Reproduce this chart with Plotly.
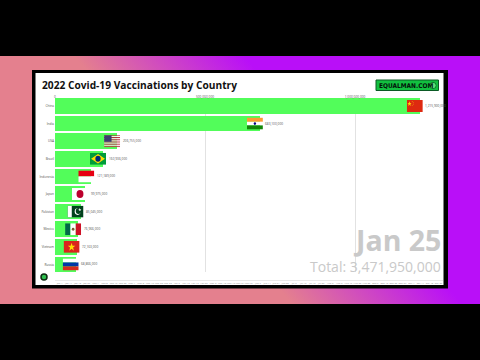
import base64
import plotly.graph_objects as go

countries = ["China", "India", "USA", "Brazil", "Indonesia", "Japan", "Pakistan", "Mexico", "Vietnam", "Russia"]
values = [1216000000, 683000000, 207000000, 160000000, 121000000, 100000000, 85000000, 77000000, 72000000, 69000000]
value_labels = ["1,215,900,000", "683,100,000", "206,755,000", "160,936,000", "121,189,000", "99,975,000",
                "85,045,000", "76,966,000", "72,163,000", "68,866,000"]
x_ticks = [0, 500000000, 1000000000]
x_tick_labels = ["0", "500,000,000", "1,000,000,000"]
timeline = ["Jan 4", "Jan 11", "Jan 18", "Jan 25", "Feb 1", "Feb 8", "Feb 15", "Feb 22", "Mar 1", "Mar 8", "Mar 15",
            "Mar 22", "Mar 29", "Apr 5", "Apr 12", "Apr 19", "Apr 26", "May 3", "May 10", "May 17", "May 24", "May 31",
            "Jun 7", "Jun 14", "Jun 21", "Jun 28", "Jul 5", "Jul 12", "Jul 19", "Jul 26", "Aug 2", "Aug 9", "Aug 16",
            "Aug 23", "Aug 30", "Sep 6", "Sep 13", "Sep 20", "Sep 27", "Oct 4", "Oct 11", "Oct 18", "Oct 25"]
title = "2022 Covid-19 Vaccinations by Country"
date_label = "Jan 25"
total_label = "Total: 3,471,950,000"

W, H = 480, 360
PER_PX = 500000000 / 150


def uri(svg):
    return "data:image/svg+xml;base64," + base64.b64encode(svg.encode()).decode()


def flag(body, w=30, h=20):
    return uri(f'<svg xmlns="http://www.w3.org/2000/svg" width="{w*4}" height="{h*4}" viewBox="0 0 {w} {h}" '
               f'preserveAspectRatio="none">{body}</svg>')


def stars(points, fill="#ffde00"):
    return f'<polygon fill="{fill}" points="{points}"/>'


us_stripes = "".join(f'<rect y="{i*20/13:.2f}" width="30" height="{20/13:.2f}" fill="{"#b22234" if i % 2 == 0 else "#fff"}"/>' for i in range(13))
flags = {
    "China": flag('<rect width="30" height="20" fill="#de2910"/>' + stars("5,2 6,5 9,5 6.6,6.8 7.5,10 5,8 2.5,10 3.4,6.8 1,5 4,5")
                  + '<circle cx="10" cy="2.5" r=".7" fill="#ffde00"/><circle cx="12" cy="4.5" r=".7" fill="#ffde00"/>'
                    '<circle cx="12" cy="7" r=".7" fill="#ffde00"/><circle cx="10" cy="9" r=".7" fill="#ffde00"/>'),
    "India": flag('<rect width="30" height="7" fill="#ff9933"/><rect y="7" width="30" height="6" fill="#fff"/>'
                  '<rect y="13" width="30" height="7" fill="#138808"/><circle cx="15" cy="10" r="2.2" fill="#000080"/>'),
    "USA": flag(us_stripes + '<rect width="14" height="11" fill="#3c3b6e"/>'),
    "Brazil": flag('<rect width="30" height="20" fill="#009b3a"/><polygon points="15,2 28,10 15,18 2,10" fill="#fedf00"/>'
                   '<circle cx="15" cy="10" r="5" fill="#002776"/>'),
    "Indonesia": flag('<rect width="30" height="10" fill="#e70011"/><rect y="10" width="30" height="10" fill="#fff"/>'),
    "Japan": flag('<rect width="30" height="20" fill="#fff"/><circle cx="15" cy="10" r="6.5" fill="#bc002d"/>'),
    "Pakistan": flag('<rect width="30" height="20" fill="#01411c"/><rect width="8" height="20" fill="#fff"/>'
                     '<circle cx="19" cy="10" r="5.5" fill="#fff"/><circle cx="20.5" cy="9" r="5" fill="#01411c"/>'
                     + stars("23,4 23.8,6 26,6 24.2,7.2 25,9 23,8 21,9 21.8,7.2 20,6 22.2,6", "#fff")),
    "Mexico": flag('<rect width="10" height="20" fill="#006847"/><rect x="10" width="10" height="20" fill="#fff"/>'
                   '<rect x="20" width="10" height="20" fill="#ce1126"/><circle cx="15" cy="10" r="2.5" fill="#7a5a30"/>'),
    "Vietnam": flag('<rect width="30" height="20" fill="#da251d"/>'
                    + stars("15,3 16.8,8 22,8 17.8,11.2 19.3,16.5 15,13.3 10.7,16.5 12.2,11.2 8,8 13.2,8")),
    "Russia": flag('<rect width="30" height="6.7" fill="#fff"/><rect y="6.7" width="30" height="6.6" fill="#0039a6"/>'
                   '<rect y="13.3" width="30" height="6.7" fill="#d52b1e"/>'),
}

background = uri(f'''<svg xmlns="http://www.w3.org/2000/svg" width="{W}" height="{H}" preserveAspectRatio="none">
<defs><linearGradient id="g" gradientUnits="userSpaceOnUse" x1="80" y1="63" x2="176" y2="-21.5">
<stop offset="0" stop-color="#e4808e"/><stop offset="1" stop-color="#b90ff8"/></linearGradient></defs>
<rect width="{W}" height="{H}" fill="url(#g)"/></svg>''')


def px(x):
    return x / W


def py(y):
    return 1 - y / H


def rect(x0, y0, x1, y1, fill, line=None, lw=0):
    return dict(type="rect", xref="paper", yref="paper", x0=px(x0), x1=px(x1), y0=py(y1), y1=py(y0), layer="below",
                fillcolor=fill, line=dict(color=line or fill, width=lw))


def circle(cx, cy, r, fill, line, lw=1):
    return dict(type="circle", xref="paper", yref="paper", x0=px(cx - r), x1=px(cx + r), y0=py(cy + r), y1=py(cy - r),
                layer="above", fillcolor=fill, line=dict(color=line, width=lw))


fig = go.Figure()
fig.add_trace(go.Bar(x=values, y=list(range(len(countries))), orientation="h", width=0.89,
                     marker=dict(color="#52fd5a", line=dict(width=0)), showlegend=False, hoverinfo="skip"))
fig.add_trace(go.Scatter(x=[0, len(timeline) - 1], y=[0, 0], xaxis="x2", mode="none", showlegend=False, hoverinfo="skip"))

shapes = [
    rect(0, 0, W, 56, "#000000"),
    rect(0, 304, W, H, "#000000"),
    rect(32, 70, 448, 288.5, "#000000"),
    rect(35.5, 73, 443.5, 285, "#ffffff"),
    dict(type="rect", xref="paper", yref="paper", x0=px(376), x1=px(438.5), y0=py(90.5), y1=py(80), layer="above",
         fillcolor="#12c040", line=dict(color="#0b5a25", width=1)),
    circle(433, 85.5, 3.2, "#5fe07c", "#0b7a2a", 1),
    circle(44, 277, 3, "#2fbf4f", "#0d2a12", 1.5),
]

images = [dict(source=background, xref="paper", yref="paper", x=0, y=1, sizex=1, sizey=1, sizing="stretch",
               xanchor="left", yanchor="top", layer="below")]
for i, name in enumerate(countries):
    images.append(dict(source=flags[name], xref="x", yref="y", x=values[i] + 3 * PER_PX, y=i,
                       sizex=16 * PER_PX, sizey=0.68, sizing="stretch", xanchor="right", yanchor="middle", layer="above"))

annotations = [
    dict(text=f"<b>{title}</b>", xref="paper", yref="paper", x=px(40), y=py(85), xanchor="left", yanchor="middle",
         showarrow=False, font=dict(family="Open Sans", size=10.2, color="#111111")),
    dict(text="<b>EQUALMAN.COM</b>", xref="paper", yref="paper", x=px(376.5), y=py(85.5), xanchor="left", yanchor="middle",
         showarrow=False, font=dict(family="DejaVu Sans Condensed, DejaVu Sans", size=6.5, color="#03150a")),
    dict(text=f"<b>{date_label}</b>", xref="paper", yref="paper", x=px(442.5), y=py(240.5), xanchor="right", yanchor="middle",
         showarrow=False, font=dict(family="Open Sans", size=28.5, color="#c9c9c9")),
    dict(text=total_label, xref="paper", yref="paper", x=px(442.5), y=py(266.5), xanchor="right", yanchor="middle",
         showarrow=False, font=dict(family="Open Sans", size=14, color="#c9c9c9")),
]
for i, label in enumerate(value_labels):
    annotations.append(dict(text=label, xref="x", yref="y", x=values[i], y=i, xshift=3.5, xanchor="left", yanchor="middle",
                            showarrow=False, font=dict(family="Open Sans", size=3.2, color="#555555")))

fig.update_layout(
    width=W, height=H, autosize=False,
    margin=dict(l=0, r=0, t=0, b=0, pad=0),
    paper_bgcolor="#e4808e", plot_bgcolor="rgba(0,0,0,0)",
    showlegend=False, shapes=shapes, images=images, annotations=annotations, bargap=0,
    xaxis=dict(domain=[px(55), px(443)], range=[0, 388 * PER_PX], side="top", tickmode="array",
               tickvals=x_ticks, ticktext=x_tick_labels, showgrid=True, gridcolor="#e2e2e2", gridwidth=1,
               zeroline=False, showline=False, ticks="", tickfont=dict(family="Open Sans", size=3.2, color="#555555"),
               ticklabelstandoff=-3),
    yaxis=dict(domain=[py(272), py(97)], range=[9.43, -0.511], tickmode="array",
               tickvals=list(range(len(countries))), ticktext=countries, showgrid=False, zeroline=False,
               showline=False, ticks="", tickfont=dict(family="Open Sans", size=3.2, color="#555555")),
    xaxis2=dict(domain=[px(49), px(441)], range=[-0.5, len(timeline) - 0.5], anchor="free", position=py(279.5),
                overlaying="x", side="bottom", tickmode="array", tickvals=list(range(len(timeline))), ticktext=timeline,
                showgrid=False, zeroline=False, showline=True, linecolor="#e8e8e8", linewidth=1, ticks="",
                tickangle=0, tickfont=dict(family="Open Sans", size=2.5, color="#888888")),
)

fig.write_html("out.html", config=dict(displayModeBar=False),
               post_script="document.body.style.margin='0';document.documentElement.style.overflow='hidden';")
